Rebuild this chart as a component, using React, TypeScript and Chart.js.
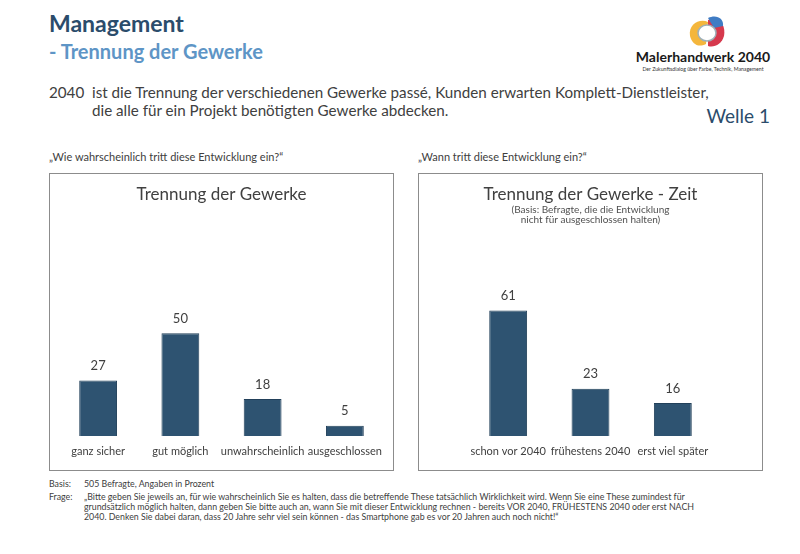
import React, { useEffect, useRef } from 'react'
import { Chart, ChartConfiguration, Plugin, registerables } from 'chart.js'

Chart.register(...registerables)

const likelihoodLabels = ['ganz sicher', 'gut möglich', 'unwahrscheinlich', 'ausgeschlossen']
const likelihoodValues = [27, 50, 18, 5]

const timeLabels = ['schon vor 2040', 'frühestens 2040', 'erst viel später']
const timeValues = [61, 23, 16]

const FONT = 'Lato, "Noto Sans", sans-serif'
const BAR = '#2e5371'
const TEXT = '#404040'

const valueLabels: Plugin<'bar'> = {
  id: 'valueLabels',
  afterDatasetsDraw(chart) {
    const ctx = chart.ctx
    const meta = chart.getDatasetMeta(0)
    const values = chart.data.datasets[0].data as number[]
    ctx.save()
    ctx.font = `13px ${FONT}`
    ctx.fillStyle = TEXT
    ctx.textAlign = 'center'
    ctx.textBaseline = 'bottom'
    meta.data.forEach((bar, i) => {
      ctx.fillText(String(values[i]), bar.x, bar.y - 8)
    })
    ctx.restore()
  },
}

type Props = {
  labels: string[]
  data: number[]
  title: string
  subtitle?: string[]
  padX: number
}

const BarChart = ({ labels, data, title, subtitle, padX }: Props) => {
  const chartRef = useRef<HTMLCanvasElement>(null)

  useEffect(() => {
    const config: ChartConfiguration<'bar'> = {
      type: 'bar',
      data: {
        labels,
        datasets: [
          {
            data,
            backgroundColor: BAR,
            borderColor: '#22405a',
            borderWidth: 1,
            categoryPercentage: 1,
            barPercentage: 0.46,
          },
        ],
      },
      options: {
        animation: false,
        responsive: true,
        maintainAspectRatio: false,
        layout: { padding: { left: padX, right: padX, top: 4, bottom: 2 } },
        scales: {
          x: {
            grid: { display: false, drawTicks: false },
            border: { display: false },
            ticks: {
              color: TEXT,
              font: { family: FONT, size: 11, lineHeight: 1.1 },
              padding: 10,
              maxRotation: 0,
              minRotation: 0,
              autoSkip: false,
            },
          },
          y: { display: false, min: 0, max: 100 },
        },
        plugins: {
          legend: { display: false },
          tooltip: { enabled: false },
          title: {
            display: true,
            text: title,
            color: TEXT,
            font: { family: FONT, size: 17, weight: 'normal', lineHeight: 1.2 },
            padding: { top: 6, bottom: subtitle ? 0 : 26 },
          },
          subtitle: {
            display: !!subtitle,
            text: subtitle || '',
            color: '#505050',
            font: { family: FONT, size: 10, weight: 'normal', lineHeight: 1.0 },
            padding: { top: 0, bottom: 6 },
          },
        },
      },
      plugins: [valueLabels],
    }
    const chart = new Chart(chartRef.current as HTMLCanvasElement, config)
    return () => {
      chart.destroy()
    }
  }, [labels, data, title, subtitle, padX])

  return <canvas ref={chartRef}></canvas>
}

const Logo = () => (
  <svg width="150" height="62" viewBox="0 0 150 62">
    <path d="M62 22 C60 10 72 4 80 8 L78 30 C70 34 64 30 62 22 Z" fill="#f4b63c" />
    <path d="M80 6 C92 2 98 12 96 22 C94 30 86 34 80 32 Z" fill="#d6394d" />
    <path d="M80 4 C88 0 96 4 95 12 L86 14 Z" fill="#3f7cc4" />
    <ellipse cx="79" cy="19" rx="9" ry="8" fill="#ffffff" stroke="#9fb0b8" strokeWidth="1.5" />
    <text x="75" y="48" textAnchor="middle" fontFamily={FONT} fontWeight="bold" fontSize="14" fill="#1a1a1a">
      Malerhandwerk 2040
    </text>
    <text x="75" y="57" textAnchor="middle" fontFamily={FONT} fontSize="5.2" fill="#333">
      Der Zukunftsdialog über Farbe, Technik, Management
    </text>
  </svg>
)

const box: React.CSSProperties = {
  position: 'absolute',
  top: 173,
  width: 343,
  height: 296,
  border: '1px solid #8c8c8c',
}

const footLine: React.CSSProperties = { whiteSpace: 'nowrap' }

export default function App() {
  return (
    <div
      style={{
        position: 'absolute',
        left: 0,
        top: 0,
        width: 800,
        height: 554,
        background: '#fff',
        fontFamily: FONT,
        color: TEXT,
      }}
    >
      <div style={{ position: 'absolute', left: 49, top: 9, fontSize: 23, fontWeight: 'bold', color: '#2b4c6b' }}>
        Management
      </div>
      <div style={{ position: 'absolute', left: 49, top: 39, fontSize: 20, fontWeight: 'bold', color: '#5e95c6' }}>
        - Trennung der Gewerke
      </div>
      <div style={{ position: 'absolute', left: 628, top: 14 }}>
        <Logo />
      </div>
      <div style={{ position: 'absolute', left: 49, top: 83, fontSize: 15.2, lineHeight: '18px' }}>2040</div>
      <div style={{ position: 'absolute', left: 92, top: 83, fontSize: 15.2, lineHeight: '18px', whiteSpace: 'nowrap' }}>
        ist die Trennung der verschiedenen Gewerke passé, Kunden erwarten Komplett-Dienstleister,
        <br />
        die alle für ein Projekt benötigten Gewerke abdecken.
      </div>
      <div style={{ position: 'absolute', right: 30, top: 104, fontSize: 19, color: '#2b4c6b' }}>Welle 1</div>

      <div style={{ position: 'absolute', left: 49, top: 150, fontSize: 11 }}>
        „Wie wahrscheinlich tritt diese Entwicklung ein?“
      </div>
      <div style={{ position: 'absolute', left: 418, top: 150, fontSize: 11 }}>
        „Wann tritt diese Entwicklung ein?“
      </div>

      <div style={{ ...box, left: 49 }}>
        <BarChart labels={likelihoodLabels} data={likelihoodValues} title="Trennung der Gewerke" padX={7} />
      </div>
      <div style={{ ...box, left: 418 }}>
        <BarChart
          labels={timeLabels}
          data={timeValues}
          title="Trennung der Gewerke - Zeit"
          subtitle={['(Basis: Befragte, die die Entwicklung', 'nicht für ausgeschlossen halten)']}
          padX={48}
        />
      </div>

      <div style={{ position: 'absolute', left: 49, top: 479, fontSize: 8.8, lineHeight: '10px', width: 720 }}>
        <div style={{ display: 'flex' }}>
          <span style={{ width: 35, flex: 'none' }}>Basis:</span>
          <span>505 Befragte, Angaben in Prozent</span>
        </div>
        <div style={{ display: 'flex', marginTop: 3 }}>
          <span style={{ width: 35, flex: 'none' }}>Frage:</span>
          <span>
            <div style={footLine}>
              „Bitte geben Sie jeweils an, für wie wahrscheinlich Sie es halten, dass die betreffende These tatsächlich
              Wirklichkeit wird. Wenn Sie eine These zumindest für
            </div>
            <div style={footLine}>
              grundsätzlich möglich halten, dann geben Sie bitte auch an, wann Sie mit dieser Entwicklung rechnen -
              bereits VOR 2040, FRÜHESTENS 2040 oder erst NACH
            </div>
            <div style={footLine}>
              2040. Denken Sie dabei daran, dass 20 Jahre sehr viel sein können - das Smartphone gab es vor 20 Jahren
              auch noch nicht!“
            </div>
          </span>
        </div>
      </div>
    </div>
  )
}
